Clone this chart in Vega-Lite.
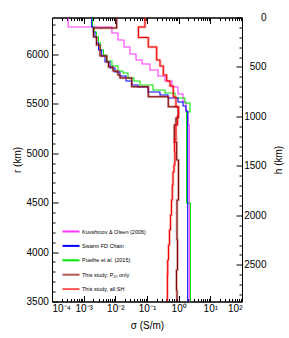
{
  "$schema": "https://vega.github.io/schema/vega-lite/v6.json",
  "width": 190,
  "height": 284,
  "autosize": "none",
  "padding": {"left": 52, "top": 17.5, "right": 47, "bottom": 36.5},
  "background": "white",
  "config": {
    "view": {"stroke": "black", "strokeWidth": 1},
    "font": "Liberation Sans",
    "axis": {
      "labelFont": "Liberation Sans", "labelFontSize": 10, "labelColor": "black",
      "titleFont": "Liberation Sans", "titleFontSize": 10, "titleFontWeight": "normal", "titleColor": "black",
      "tickColor": "black", "domainColor": "black", "grid": false, "labelOverlap": false
    }
  },
  "data": {
    "values": [
      {"model": "Kuvshinov & Olsen (2006)", "r": 6371, "sigma": 0.000324},
      {"model": "Kuvshinov & Olsen (2006)", "r": 6275, "sigma": 0.0078},
      {"model": "Kuvshinov & Olsen (2006)", "r": 6214, "sigma": 0.0121},
      {"model": "Kuvshinov & Olsen (2006)", "r": 6144, "sigma": 0.0188},
      {"model": "Kuvshinov & Olsen (2006)", "r": 6073, "sigma": 0.029},
      {"model": "Kuvshinov & Olsen (2006)", "r": 6002, "sigma": 0.045},
      {"model": "Kuvshinov & Olsen (2006)", "r": 5941, "sigma": 0.07},
      {"model": "Kuvshinov & Olsen (2006)", "r": 5901, "sigma": 0.124},
      {"model": "Kuvshinov & Olsen (2006)", "r": 5840, "sigma": 0.222},
      {"model": "Kuvshinov & Olsen (2006)", "r": 5780, "sigma": 0.37},
      {"model": "Kuvshinov & Olsen (2006)", "r": 5729, "sigma": 0.615},
      {"model": "Kuvshinov & Olsen (2006)", "r": 5668, "sigma": 0.953},
      {"model": "Kuvshinov & Olsen (2006)", "r": 5598, "sigma": 1.37},
      {"model": "Kuvshinov & Olsen (2006)", "r": 5517, "sigma": 1.7},
      {"model": "Kuvshinov & Olsen (2006)", "r": 5416, "sigma": 1.97},
      {"model": "Kuvshinov & Olsen (2006)", "r": 5284, "sigma": 2.16},
      {"model": "Kuvshinov & Olsen (2006)", "r": 3500, "sigma": 2.16},

      {"model": "Puethe et al. (2015)", "r": 6371, "sigma": 0.0019},
      {"model": "Puethe et al. (2015)", "r": 6275, "sigma": 0.0022},
      {"model": "Puethe et al. (2015)", "r": 6224, "sigma": 0.00254},
      {"model": "Puethe et al. (2015)", "r": 6174, "sigma": 0.00294},
      {"model": "Puethe et al. (2015)", "r": 6113, "sigma": 0.0034},
      {"model": "Puethe et al. (2015)", "r": 6042, "sigma": 0.00423},
      {"model": "Puethe et al. (2015)", "r": 5992, "sigma": 0.00546},
      {"model": "Puethe et al. (2015)", "r": 5931, "sigma": 0.00783},
      {"model": "Puethe et al. (2015)", "r": 5881, "sigma": 0.0121},
      {"model": "Puethe et al. (2015)", "r": 5830, "sigma": 0.0175},
      {"model": "Puethe et al. (2015)", "r": 5810, "sigma": 0.0251},
      {"model": "Puethe et al. (2015)", "r": 5759, "sigma": 0.0388},
      {"model": "Puethe et al. (2015)", "r": 5729, "sigma": 0.0601},
      {"model": "Puethe et al. (2015)", "r": 5689, "sigma": 0.155},
      {"model": "Puethe et al. (2015)", "r": 5638, "sigma": 0.37},
      {"model": "Puethe et al. (2015)", "r": 5608, "sigma": 0.766},
      {"model": "Puethe et al. (2015)", "r": 5557, "sigma": 1.58},
      {"model": "Puethe et al. (2015)", "r": 5507, "sigma": 2.28},
      {"model": "Puethe et al. (2015)", "r": 5416, "sigma": 1.77},
      {"model": "Puethe et al. (2015)", "r": 4495, "sigma": 2.36},
      {"model": "Puethe et al. (2015)", "r": 3500, "sigma": 2.36},

      {"model": "Swarm FD Chain", "r": 6371, "sigma": 0.00179},
      {"model": "Swarm FD Chain", "r": 6275, "sigma": 0.00201},
      {"model": "Swarm FD Chain", "r": 6224, "sigma": 0.00228},
      {"model": "Swarm FD Chain", "r": 6174, "sigma": 0.00258},
      {"model": "Swarm FD Chain", "r": 6113, "sigma": 0.00294},
      {"model": "Swarm FD Chain", "r": 6042, "sigma": 0.00371},
      {"model": "Swarm FD Chain", "r": 5982, "sigma": 0.00472},
      {"model": "Swarm FD Chain", "r": 5921, "sigma": 0.00678},
      {"model": "Swarm FD Chain", "r": 5860, "sigma": 0.00975},
      {"model": "Swarm FD Chain", "r": 5820, "sigma": 0.014},
      {"model": "Swarm FD Chain", "r": 5780, "sigma": 0.0217},
      {"model": "Swarm FD Chain", "r": 5729, "sigma": 0.0336},
      {"model": "Swarm FD Chain", "r": 5689, "sigma": 0.052},
      {"model": "Swarm FD Chain", "r": 5668, "sigma": 0.107},
      {"model": "Swarm FD Chain", "r": 5618, "sigma": 0.257},
      {"model": "Swarm FD Chain", "r": 5587, "sigma": 0.46},
      {"model": "Swarm FD Chain", "r": 5557, "sigma": 0.953},
      {"model": "Swarm FD Chain", "r": 5517, "sigma": 1.37},
      {"model": "Swarm FD Chain", "r": 5476, "sigma": 1.7},
      {"model": "Swarm FD Chain", "r": 5426, "sigma": 1.93},
      {"model": "Swarm FD Chain", "r": 3500, "sigma": 1.93},

      {"model": "This study, P₁₀ only", "r": 6371, "sigma": 0.011},
      {"model": "This study, P₁₀ only", "r": 6265, "sigma": 0.00204},
      {"model": "This study, P₁₀ only", "r": 6174, "sigma": 0.00254},
      {"model": "This study, P₁₀ only", "r": 6093, "sigma": 0.00328},
      {"model": "This study, P₁₀ only", "r": 5982, "sigma": 0.00533},
      {"model": "This study, P₁₀ only", "r": 5921, "sigma": 0.00608},
      {"model": "This study, P₁₀ only", "r": 5871, "sigma": 0.00843},
      {"model": "This study, P₁₀ only", "r": 5830, "sigma": 0.0121},
      {"model": "This study, P₁₀ only", "r": 5790, "sigma": 0.014},
      {"model": "This study, P₁₀ only", "r": 5760, "sigma": 0.0329},
      {"model": "This study, P₁₀ only", "r": 5671, "sigma": 0.11},
      {"model": "This study, P₁₀ only", "r": 5570, "sigma": 0.47},
      {"model": "This study, P₁₀ only", "r": 5469, "sigma": 0.972},
      {"model": "This study, P₁₀ only", "r": 5355, "sigma": 0.822},
      {"model": "This study, P₁₀ only", "r": 5284, "sigma": 0.728},
      {"model": "This study, P₁₀ only", "r": 5112, "sigma": 0.865},
      {"model": "This study, P₁₀ only", "r": 4930, "sigma": 0.986},
      {"model": "This study, P₁₀ only", "r": 4526, "sigma": 0.885},
      {"model": "This study, P₁₀ only", "r": 4121, "sigma": 0.918},
      {"model": "This study, P₁₀ only", "r": 3818, "sigma": 0.853},
      {"model": "This study, P₁₀ only", "r": 3616, "sigma": 0.885},
      {"model": "This study, P₁₀ only", "r": 3500, "sigma": 0.885},

      {"model": "This study, all SH", "r": 6371, "sigma": 0.0865},
      {"model": "This study, all SH", "r": 6275, "sigma": 0.0538},
      {"model": "This study, all SH", "r": 6169, "sigma": 0.11},
      {"model": "This study, all SH", "r": 6073, "sigma": 0.202},
      {"model": "This study, all SH", "r": 5941, "sigma": 0.257},
      {"model": "This study, all SH", "r": 5881, "sigma": 0.327},
      {"model": "This study, all SH", "r": 5790, "sigma": 0.419},
      {"model": "This study, all SH", "r": 5729, "sigma": 0.532},
      {"model": "This study, all SH", "r": 5678, "sigma": 0.676},
      {"model": "This study, all SH", "r": 5567, "sigma": 0.822},
      {"model": "This study, all SH", "r": 5466, "sigma": 0.986},
      {"model": "This study, all SH", "r": 5375, "sigma": 0.918},
      {"model": "This study, all SH", "r": 5284, "sigma": 0.822},
      {"model": "This study, all SH", "r": 5132, "sigma": 0.738},
      {"model": "This study, all SH", "r": 5011, "sigma": 0.76},
      {"model": "This study, all SH", "r": 4880, "sigma": 0.711},
      {"model": "This study, all SH", "r": 4809, "sigma": 0.662},
      {"model": "This study, all SH", "r": 4677, "sigma": 0.63},
      {"model": "This study, all SH", "r": 4526, "sigma": 0.593},
      {"model": "This study, all SH", "r": 4374, "sigma": 0.552},
      {"model": "This study, all SH", "r": 4223, "sigma": 0.513},
      {"model": "This study, all SH", "r": 4071, "sigma": 0.478},
      {"model": "This study, all SH", "r": 3919, "sigma": 0.45},
      {"model": "This study, all SH", "r": 3767, "sigma": 0.44},
      {"model": "This study, all SH", "r": 3500, "sigma": 0.44}
    ]
  },
  "layer": [
    {
      "mark": {"type": "line", "interpolate": "step-before", "clip": true},
      "encoding": {
        "x": {
          "field": "sigma", "type": "quantitative",
          "scale": {"type": "log", "domain": [0.0001, 100], "nice": false},
          "axis": {
            "orient": "bottom", "title": "σ (S/m)",
            "values": [0.0001,0.0002,0.0003,0.0004,0.0005,0.0006,0.0007,0.0008,0.0009,0.001,0.002,0.003,0.004,0.005,0.006,0.007,0.008,0.009,0.01,0.02,0.03,0.04,0.05,0.06,0.07,0.08,0.09,0.1,0.2,0.3,0.4,0.5,0.6,0.7,0.8,0.9,1,2,3,4,5,6,7,8,9,10,20,30,40,50,60,70,80,90,100],
            "labelExpr": "abs(log(datum.value)/LN10 - round(log(datum.value)/LN10)) < 0.001 ? '10' + ['⁻⁴','⁻³','⁻²','⁻¹','⁰','¹','²'][round(log(datum.value)/LN10) + 4] : ''",
            "tickSize": {"condition": {"test": "abs(log(datum.value)/LN10 - round(log(datum.value)/LN10)) < 0.001", "value": -6}, "value": -3},
            "labelPadding": 8,
            "titlePadding": 4
          }
        },
        "y": {
          "field": "r", "type": "quantitative",
          "scale": {"domain": [3500, 6371], "nice": false, "zero": false},
          "axis": {
            "orient": "left", "title": "r (km)",
            "values": [3500,3600,3700,3800,3900,4000,4100,4200,4300,4400,4500,4600,4700,4800,4900,5000,5100,5200,5300,5400,5500,5600,5700,5800,5900,6000,6100,6200,6300],
            "labelExpr": "datum.value % 500 == 0 ? format(datum.value, 'd') : ''",
            "tickSize": {"condition": {"test": "datum.value % 500 == 0", "value": -6}, "value": -3},
            "labelPadding": 9.7,
            "titleX": -35, "titleBaseline": "middle"
          }
        },
        "color": {
          "field": "model", "type": "nominal",
          "scale": {
            "domain": ["Kuvshinov & Olsen (2006)", "Swarm FD Chain", "Puethe et al. (2015)", "This study, P₁₀ only", "This study, all SH"],
            "range": ["#ff33ff", "#0000ff", "#00e600", "#b05858", "#ff5555"]
          },
          "legend": {
            "orient": "none", "legendX": 9, "legendY": 204, "title": null,
            "symbolType": "stroke", "symbolSize": 290, "symbolStrokeWidth": 2, "symbolOpacity": 1,
            "labelFont": "Liberation Sans", "labelFontSize": 5.5, "labelColor": "black", "labelOffset": 1,
            "rowPadding": 0.4
          }
        },
        "order": {"field": "r", "sort": "descending"},
        "strokeWidth": {"condition": {"test": "indexof(datum.model, 'This study') == 0", "value": 2.6}, "value": 1.05},
        "opacity": {"condition": {"test": "indexof(datum.model, 'This study') == 0", "value": 0.5}, "value": 1}
      }
    },
    {
      "transform": [{"filter": "indexof(datum.model, 'This study') == 0"}],
      "mark": {"type": "line", "interpolate": "step-before", "strokeWidth": 1, "clip": true},
      "encoding": {
        "x": {
          "field": "sigma", "type": "quantitative",
          "axis": {
            "orient": "top", "title": null, "labels": false,
            "values": [0.0001,0.0002,0.0003,0.0004,0.0005,0.0006,0.0007,0.0008,0.0009,0.001,0.002,0.003,0.004,0.005,0.006,0.007,0.008,0.009,0.01,0.02,0.03,0.04,0.05,0.06,0.07,0.08,0.09,0.1,0.2,0.3,0.4,0.5,0.6,0.7,0.8,0.9,1,2,3,4,5,6,7,8,9,10,20,30,40,50,60,70,80,90,100],
            "tickSize": {"condition": {"test": "abs(log(datum.value)/LN10 - round(log(datum.value)/LN10)) < 0.001", "value": -6}, "value": -3}
          }
        },
        "y": {
          "field": "r", "type": "quantitative",
          "axis": {
            "orient": "right", "title": "h (km)",
            "values": [6371,6271,6171,6071,5971,5871,5771,5671,5571,5471,5371,5271,5171,5071,4971,4871,4771,4671,4571,4471,4371,4271,4171,4071,3971,3871,3771,3671,3571],
            "labelExpr": "(6371 - datum.value) % 500 == 0 ? format(6371 - datum.value, 'd') : ''",
            "tickSize": {"condition": {"test": "(6371 - datum.value) % 500 == 0", "value": -6}, "value": -3},
            "labelAlign": "right", "labelPadding": 30,
            "titleAngle": 270, "titleX": 36, "titleBaseline": "middle"
          }
        },
        "stroke": {"condition": {"test": "datum.model == 'This study, P₁₀ only'", "value": "#800000"}, "value": "#ee0000"},
        "detail": {"field": "model", "type": "nominal"},
        "order": {"field": "r", "sort": "descending"}
      }
    }
  ],
  "resolve": {"axis": {"x": "independent", "y": "independent"}}
}
